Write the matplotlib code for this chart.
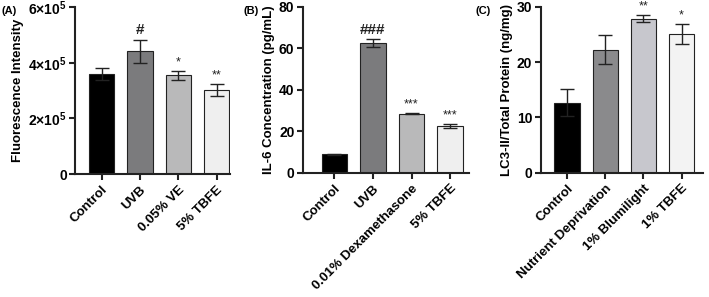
import numpy as np
import matplotlib
matplotlib.use('Agg')
import matplotlib.pyplot as plt

plt.rcParams['font.family'] = ['Liberation Sans', 'DejaVu Sans']
plt.rcParams['font.weight'] = 'bold'
plt.rcParams['mathtext.fontset'] = 'custom'
plt.rcParams['mathtext.rm'] = 'Liberation Sans:bold'
plt.rcParams['mathtext.bf'] = 'Liberation Sans:bold'

# Panel A
a_labels = ['Control', 'UVB', '0.05% VE', '5% TBFE']
a_values = [3.60e5, 4.41e5, 3.55e5, 3.01e5]
a_errors = [0.21e5, 0.41e5, 0.16e5, 0.22e5]
a_marks = ['', '#', '*', '**']

# Panel B
b_labels = ['Control', 'UVB', '0.01% Dexamethasone', '5% TBFE']
b_values = [8.8, 62.5, 28.5, 22.6]
b_errors = [0.3, 2.0, 0.4, 1.1]
b_marks = ['', '###', '***', '***']

# Panel C
c_labels = ['Control', 'Nutrient Deprivation', '1% Blumilight', '1% TBFE']
c_values = [12.7, 22.3, 27.9, 25.1]
c_errors = [2.5, 2.6, 0.6, 1.8]
c_marks = ['', '', '**', '*']

colors_ab = ['#000000', '#7b7b7d', '#b9b9ba', '#efefef']
colors_c = ['#000000', '#8a8a8c', '#c7c7cd', '#f3f3f3']

fig = plt.figure(figsize=(7.09, 2.97), dpi=100)

panels = [
    dict(rect=[0.106, 0.414, 0.218, 0.562], labels=a_labels, values=a_values,
         errors=a_errors, marks=a_marks, colors=colors_ab, ylim=6e5,
         yticks=[0, 2e5, 4e5, 6e5],
         yticklabels=['0', r'$2{\times}10^5$', r'$4{\times}10^5$', r'$6{\times}10^5$'],
         ylabel='Fluorescence Intensity', tag='(A)', tag_x=0.002, xlim=(-0.69, 3.34)),
    dict(rect=[0.427, 0.4185, 0.234, 0.558], labels=b_labels, values=b_values,
         errors=b_errors, marks=b_marks, colors=colors_ab, ylim=80,
         yticks=[0, 20, 40, 60, 80], yticklabels=['0', '20', '40', '60', '80'],
         ylabel='IL-6 Concentration (pg/mL)', tag='(B)', tag_x=0.343, xlim=(-0.82, 3.48)),
    dict(rect=[0.7626, 0.4185, 0.229, 0.558], labels=c_labels, values=c_values,
         errors=c_errors, marks=c_marks, colors=colors_c, ylim=30,
         yticks=[0, 10, 20, 30], yticklabels=['0', '10', '20', '30'],
         ylabel='LC3-II/Total Protein (ng/mg)', tag='(C)', tag_x=0.671, xlim=(-0.69, 3.56)),
]

for p in panels:
    ax = fig.add_axes(p['rect'])
    x = np.arange(len(p['values']))
    ax.bar(x, p['values'], width=0.66, color=p['colors'], edgecolor='#222222',
           linewidth=0.8, zorder=2)
    ax.errorbar(x, p['values'], yerr=p['errors'], fmt='none', ecolor='#222222',
                elinewidth=1.0, capsize=4.8, capthick=1.0, zorder=3)
    for xi, v, e, m in zip(x, p['values'], p['errors'], p['marks']):
        if m:
            size = 11 if '#' in m else 9
            ax.text(xi, v + e + p['ylim'] * 0.015, m, ha='center', va='bottom',
                    fontsize=size, fontweight='normal' if '*' in m else 'bold',
                    color='#222222')
    ax.set_xlim(*p['xlim'])
    ax.set_ylim(0, p['ylim'])
    ax.set_yticks(p['yticks'])
    ax.set_yticklabels(p['yticklabels'], fontsize=10, fontweight='bold')
    ax.set_xticks(x)
    ax.set_xticklabels(p['labels'], rotation=45, ha='right', rotation_mode='anchor',
                       fontsize=9.5, fontweight='bold')
    ax.set_ylabel(p['ylabel'], fontsize=9.5, fontweight='bold', labelpad=3)
    ax.spines['top'].set_visible(False)
    ax.spines['right'].set_visible(False)
    for s in ['left', 'bottom']:
        ax.spines[s].set_linewidth(1.5)
        ax.spines[s].set_color('#222222')
    ax.tick_params(axis='both', width=1.5, length=4, color='#222222', pad=2)
    ax.tick_params(axis='x', length=4, pad=3)
    fig.text(p['tag_x'], 0.962, p['tag'], fontsize=8, fontweight='bold',
             ha='left', va='center')

fig.savefig('out.png', dpi=100, facecolor='white')
